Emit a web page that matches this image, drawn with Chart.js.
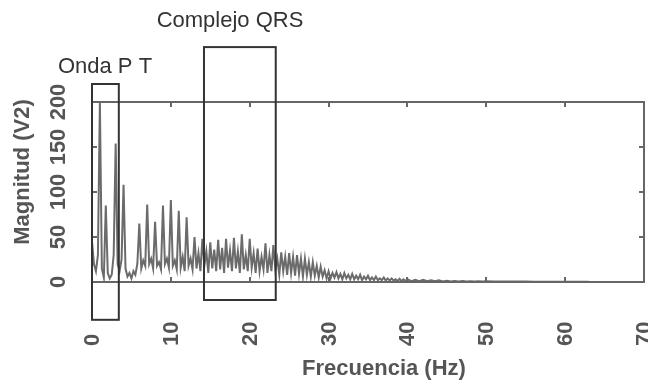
<!DOCTYPE html>
<html><head><meta charset="utf-8">
<script src="https://cdn.jsdelivr.net/npm/chart.js@4/dist/chart.umd.min.js"></script>
<style>html,body{margin:0;padding:0;background:#fff}canvas{display:block}</style>
</head><body>
<canvas id="c" width="648" height="383"></canvas>
<script>
// Frequencies (Hz)
const freqs = [
  0,0.25,0.5,0.75, 1,1.25,1.5,1.75, 2,2.25,2.5,2.75, 3,3.25,3.5,3.75,
  4,4.25,4.5,4.75, 5,5.25,5.5,5.75, 6,6.25,6.5,6.75, 7,7.25,7.5,7.75,
  8,8.25,8.5,8.75, 9,9.25,9.5,9.75, 10,10.25,10.5,10.75, 11,11.25,11.5,11.75,
  12,12.25,12.5,12.75, 13,13.25,13.5,13.75, 14,14.25,14.5,14.75, 15,15.25,15.5,15.75,
  16,16.25,16.5,16.75, 17,17.25,17.5,17.75, 18,18.25,18.5,18.75, 19,19.25,19.5,19.75,
  20,20.25,20.5,20.75, 21,21.25,21.5,21.75, 22,22.25,22.5,22.75, 23,23.25,23.5,23.75,
  24,24.25,24.5,24.75, 25,25.25,25.5,25.75, 26,26.25,26.5,26.75, 27,27.25,27.5,27.75,
  28,28.25,28.5,28.75, 29,29.25,29.5,29.75, 30,30.25,30.5,30.75, 31,31.25,31.5,31.75,
  32,32.25,32.5,32.75, 33,33.25,33.5,33.75, 34,34.25,34.5,34.75, 35,35.25,35.5,35.75,
  36,36.25,36.5,36.75, 37,37.25,37.5,37.75, 38,38.25,38.5,38.75, 39,39.25,39.5,39.75, 40,
  40.5,41,41.5,42,42.5,43,43.5,44,44.5,45,45.5,46,46.5,47,47.5,48,48.5,49,49.5,50,
  51,52,53,54,55,56,57,58,59,60,61,62,63
];
// Magnitude (V2)
const magnitudes = [
  45,20,12,30, 200,15,5,85, 10,4,8,30, 154,20,12,25,
  108,15,6,10, 4,12,8,20, 65,15,24,18, 86,20,26,15,
  67,18,22,14, 85,20,26,16, 91,18,24,14, 79,16,28,12,
  72,18,26,14, 50,15,32,12, 48,18,34,10, 44,15,36,12,
  47,14,38,10, 48,16,35,12, 49,15,34,10, 53,14,30,12,
  48,16,32,10, 37,12,28,14, 43,10,30,12, 41,14,26,8,
  33,12,28,8, 32,10,28,7, 30,9,26,6, 26,8,22,6,
  22,7,18,5, 17,6,13,4, 12,4,10,5, 11,4,9,3,
  10,4,8,3, 9,3,7,3, 8,2,6,3, 7,2,5,2,
  6,2,4,2, 5,1.5,4,1.5, 4,1.5,3,1, 3.5,1,3,1, 3,
  1,2.5,1,2.5,0.8,2,0.8,1.8,0.7,1.5,0.7,1.2,0.6,1,0.6,0.9,0.5,0.8,0.5,0.7,
  0.6,0.6,0.5,0.5,0.5,0.4,0.4,0.4,0.4,0.3,0.3,0.3,0.3
];
const xTicks = [0,10,20,30,40,50,60,70];
const yTicks = [0,50,100,150,200];
const xTitle = 'Frecuencia (Hz)';
const yTitle = 'Magnitud (V2)';
// Annotation boxes: [xMin, xMax, yMin, yMax] in data units
const ondaBox = [0, 3.4, -42, 220];
const qrsBox = [14.2, 23.3, -20, 261];
const ondaLabel = 'Onda P T';
const qrsLabel = 'Complejo QRS';
const ondaLabelPos = [1.65, 239];
const qrsLabelPos = [17.5, 290];

const points = freqs.map((f, i) => ({x: f, y: magnitudes[i]}));

const decor = {
  id: 'decor',
  afterDatasetsDraw(chart) {
    const ctx = chart.ctx;
    const xs = chart.scales.x, ys = chart.scales.y;
    const a = chart.chartArea;
    ctx.save();
    // frame
    ctx.strokeStyle = '#666';
    ctx.lineWidth = 2;
    ctx.strokeRect(a.left, a.top, a.right - a.left, a.bottom - a.top);
    // inward ticks
    const tl = 5;
    xTicks.forEach(v => {
      if (v === xs.min || v === xs.max) return;
      const px = Math.round(xs.getPixelForValue(v));
      ctx.beginPath();
      ctx.moveTo(px, a.top); ctx.lineTo(px, a.top + tl);
      ctx.moveTo(px, a.bottom); ctx.lineTo(px, a.bottom - tl);
      ctx.stroke();
    });
    yTicks.forEach(v => {
      if (v === ys.min || v === ys.max) return;
      const py = Math.round(ys.getPixelForValue(v));
      ctx.beginPath();
      ctx.moveTo(a.left, py); ctx.lineTo(a.left + tl, py);
      ctx.moveTo(a.right, py); ctx.lineTo(a.right - tl, py);
      ctx.stroke();
    });
    // tick labels
    ctx.fillStyle = '#555';
    ctx.font = 'bold 22px "Liberation Sans", Arial, sans-serif';
    xTicks.forEach(v => {
      ctx.save();
      ctx.translate(xs.getPixelForValue(v), 346);
      ctx.rotate(-Math.PI / 2);
      ctx.textAlign = 'left';
      ctx.textBaseline = 'middle';
      ctx.fillText(String(v), 0, 1);
      ctx.restore();
    });
    yTicks.forEach(v => {
      ctx.save();
      ctx.translate(58, ys.getPixelForValue(v));
      ctx.rotate(-Math.PI / 2);
      ctx.textAlign = 'center';
      ctx.textBaseline = 'middle';
      ctx.fillText(String(v), 0, 1);
      ctx.restore();
    });
    // axis titles
    ctx.textAlign = 'center';
    ctx.textBaseline = 'middle';
    ctx.fillText(xTitle, 384, 369);
    ctx.save();
    ctx.translate(23, 172);
    ctx.rotate(-Math.PI / 2);
    ctx.fillText(yTitle, 0, 0);
    ctx.restore();
    // annotation boxes
    ctx.strokeStyle = '#333';
    ctx.lineWidth = 2;
    [ondaBox, qrsBox].forEach(b => {
      const x0 = xs.getPixelForValue(b[0]), x1 = xs.getPixelForValue(b[1]);
      const y0 = ys.getPixelForValue(b[3]), y1 = ys.getPixelForValue(b[2]);
      ctx.strokeRect(x0, y0, x1 - x0, y1 - y0);
    });
    ctx.fillStyle = '#333';
    ctx.font = '22px "Liberation Sans", Arial, sans-serif';
    ctx.fillText(ondaLabel, xs.getPixelForValue(ondaLabelPos[0]), ys.getPixelForValue(ondaLabelPos[1]));
    ctx.fillText(qrsLabel, xs.getPixelForValue(qrsLabelPos[0]), ys.getPixelForValue(qrsLabelPos[1]));
    ctx.restore();
  }
};

new Chart(document.getElementById('c'), {
  type: 'line',
  data: {
    datasets: [{
      data: points,
      borderColor: '#6b6b6b',
      borderWidth: 2,
      pointRadius: 0,
      tension: 0,
      fill: false
    }]
  },
  options: {
    responsive: false,
    animation: false,
    events: [],
    layout: { padding: { left: 92, top: 102, right: 4, bottom: 101 } },
    plugins: { legend: { display: false }, tooltip: { enabled: false } },
    scales: {
      x: { type: 'linear', min: 0, max: 70, display: false },
      y: { type: 'linear', min: 0, max: 200, display: false }
    }
  },
  plugins: [decor]
});
</script>
</body></html>
